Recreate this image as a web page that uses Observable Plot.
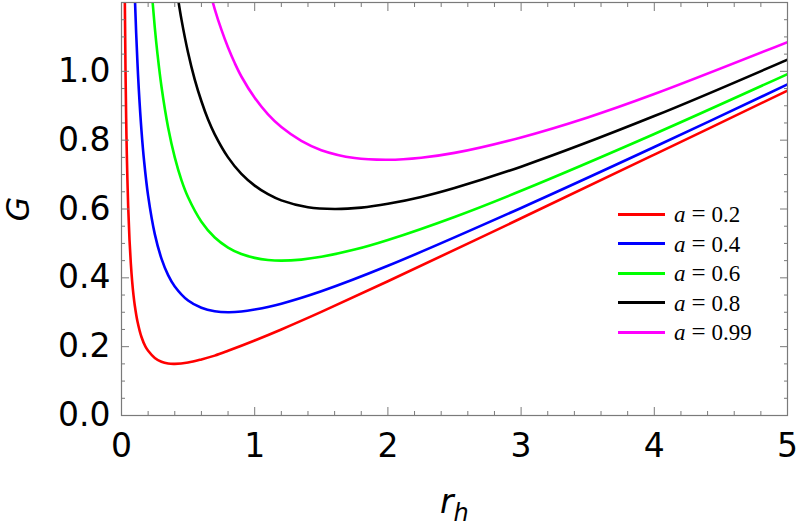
<!DOCTYPE html>
<html>
<head>
<meta charset="utf-8">
<script src="https://cdn.jsdelivr.net/npm/d3@7"></script>
<script src="https://cdn.jsdelivr.net/npm/@observablehq/plot@0.6"></script>
<style>
  html, body { margin: 0; padding: 0; background: #fff; }
  #wrap { position: relative; width: 797px; height: 527px; overflow: hidden; }
  #wrap svg { position: absolute; left: 0; top: 0; }
  .lab { position: absolute; font-family: "DejaVu Sans", sans-serif; color: #000; white-space: nowrap; }
  .leg { position: absolute; font-family: "Liberation Serif", "DejaVu Serif", serif; font-size: 23px; white-space: nowrap; line-height: 1; }
  .leg .eq { display: inline-block; padding: 0 6px; font-size: 25px; }
</style>
</head>
<body>
<div id="wrap"></div>
<script>
// Series values
const aValues = [0.2, 0.4, 0.6, 0.8, 0.99];
const colors = ["#ff0000", "#0000ff", "#00ff00", "#000000", "#ff00ff"];

const r_a02 = [0.02, 0.025, 0.03, 0.035, 0.04, 0.05, 0.06, 0.07, 0.08, 0.09, 0.1, 0.12, 0.15, 0.18, 0.2, 0.25, 0.3, 0.35, 0.4, 0.5, 0.6, 0.7, 0.8, 1.0, 1.2, 1.5, 2, 3, 4, 5];
const G_a02 = [1.504, 1.205, 1.006, 0.864, 0.758, 0.609, 0.511, 0.442, 0.390, 0.350, 0.319, 0.273, 0.228, 0.200, 0.188, 0.167, 0.156, 0.151, 0.150, 0.154, 0.163, 0.174, 0.188, 0.218, 0.250, 0.301, 0.390, 0.573, 0.758, 0.944];

const r_a04 = [0.08, 0.09, 0.1, 0.11, 0.12, 0.13, 0.15, 0.17, 0.2, 0.25, 0.3, 0.35, 0.4, 0.5, 0.6, 0.7, 0.8, 0.9, 1.0, 1.2, 1.5, 2, 3, 4, 5];
const G_a04 = [1.515, 1.350, 1.219, 1.112, 1.023, 0.947, 0.828, 0.738, 0.638, 0.527, 0.456, 0.408, 0.375, 0.334, 0.313, 0.303, 0.300, 0.302, 0.308, 0.325, 0.361, 0.435, 0.603, 0.780, 0.962];

const r_a06 = [0.2, 0.22, 0.25, 0.27, 0.3, 0.35, 0.4, 0.45, 0.5, 0.6, 0.7, 0.8, 0.9, 1.0, 1.1, 1.2, 1.35, 1.5, 1.75, 2, 2.5, 3, 4, 5];
const G_a06 = [1.388, 1.268, 1.127, 1.051, 0.956, 0.837, 0.750, 0.684, 0.634, 0.563, 0.517, 0.488, 0.469, 0.458, 0.452, 0.450, 0.453, 0.461, 0.482, 0.510, 0.577, 0.653, 0.818, 0.992];

const r_a08 = [0.35, 0.4, 0.42, 0.45, 0.5, 0.55, 0.6, 0.65, 0.7, 0.8, 0.9, 1.0, 1.1, 1.2, 1.4, 1.6, 1.8, 2.0, 2.25, 2.5, 3, 4, 5];
const G_a08 = [1.437, 1.275, 1.222, 1.151, 1.054, 0.976, 0.913, 0.860, 0.817, 0.750, 0.702, 0.668, 0.643, 0.625, 0.605, 0.600, 0.604, 0.615, 0.635, 0.661, 0.723, 0.870, 1.034];

const r_a099 = [0.6, 0.65, 0.7, 0.75, 0.8, 0.85, 0.9, 1.0, 1.1, 1.2, 1.35, 1.5, 1.75, 2.0, 2.25, 2.5, 3, 3.5, 4, 5];
const G_a099 = [1.338, 1.253, 1.181, 1.121, 1.069, 1.024, 0.985, 0.923, 0.875, 0.838, 0.798, 0.771, 0.748, 0.743, 0.749, 0.763, 0.808, 0.866, 0.934, 1.085];

// Tick labels
const xTicks = [0, 1, 2, 3, 4, 5];
const xMinor = [0.2,0.4,0.6,0.8,1.2,1.4,1.6,1.8,2.2,2.4,2.6,2.8,3.2,3.4,3.6,3.8,4.2,4.4,4.6,4.8];
const yTicks = [0.0, 0.2, 0.4, 0.6, 0.8, 1.0];
const yTickLabels = ["0.0", "0.2", "0.4", "0.6", "0.8", "1.0"];
const yMinor = [0.05,0.1,0.15,0.25,0.3,0.35,0.45,0.5,0.55,0.65,0.7,0.75,0.85,0.9,0.95,1.05,1.1,1.15];

const seriesR = [r_a02, r_a04, r_a06, r_a08, r_a099];
const seriesG = [G_a02, G_a04, G_a06, G_a08, G_a099];
const data = [];
seriesR.forEach((rs, i) => rs.forEach((r, j) => data.push({r, G: seriesG[i][j], a: String(aValues[i])})));

const frameColor = "#7a7a7a";
const tickFont = "DejaVu Sans, sans-serif";
const tk = (extra) => Object.assign({label: null, stroke: frameColor, text: null}, extra);

const chart = Plot.plot({
  width: 797,
  height: 527,
  marginLeft: 121,
  marginRight: 10,
  marginTop: 2,
  marginBottom: 112,
  x: {domain: [0, 5], label: null},
  y: {domain: [0, 1.2], label: null},
  color: {domain: aValues.map(String), range: colors},
  style: {fontFamily: tickFont, background: "white"},
  marks: [
    Plot.line(data, {x: "r", y: "G", z: "a", stroke: "a", strokeWidth: 2.6, curve: "catmull-rom", clip: true}),
    Plot.frame({stroke: frameColor, strokeWidth: 1.2}),
    // major ticks (inward) on all sides
    Plot.axisX(xTicks, tk({anchor: "bottom", tickSize: -8})),
    Plot.axisX(xTicks, tk({anchor: "top", tickSize: -8})),
    Plot.axisY(yTicks, tk({anchor: "left", tickSize: -8})),
    Plot.axisY(yTicks, tk({anchor: "right", tickSize: -8})),
    // minor ticks
    Plot.axisX(xMinor, tk({anchor: "bottom", tickSize: -4})),
    Plot.axisX(xMinor, tk({anchor: "top", tickSize: -4})),
    Plot.axisY(yMinor, tk({anchor: "left", tickSize: -4})),
    Plot.axisY(yMinor, tk({anchor: "right", tickSize: -4})),
    // tick labels
    Plot.axisX(xTicks, {anchor: "bottom", tickSize: 0, tickPadding: 18, fontSize: 33, fill: "#000", label: null, tickFormat: d => String(d)}),
    Plot.axisY(yTicks, {anchor: "left", tickSize: 0, tickPadding: 11, fontSize: 33, fill: "#000", label: null, tickFormat: (d, i) => yTickLabels[i]})
  ]
});

const wrap = document.getElementById("wrap");
wrap.appendChild(chart);

// axis labels
const gl = document.createElement("div");
gl.className = "lab";
gl.style.cssText = "left:18px;top:209px;font-size:32px;font-style:italic;line-height:1;transform:translate(-50%,-50%) rotate(-90deg);";
gl.textContent = "G";
wrap.appendChild(gl);

const xl = document.createElement("div");
xl.className = "lab";
xl.style.cssText = "left:440px;top:485px;font-size:33px;font-style:italic;line-height:1;";
xl.innerHTML = "r<sub style='font-size:24px;vertical-align:-8px;line-height:1'>h</sub>";
wrap.appendChild(xl);

// legend
const legY = [214, 243.5, 273, 302.5, 332];
aValues.forEach((a, i) => {
  const sw = document.createElement("div");
  sw.style.cssText = `position:absolute;left:618px;top:${legY[i] - 1.5}px;width:47px;height:3px;background:${colors[i]};`;
  wrap.appendChild(sw);
  const t = document.createElement("div");
  t.className = "leg";
  t.style.cssText += `left:674px;top:${legY[i] - 13}px;`;
  t.innerHTML = `<i>a</i><span class="eq">=</span>${a}`;
  wrap.appendChild(t);
});
</script>
</body>
</html>
